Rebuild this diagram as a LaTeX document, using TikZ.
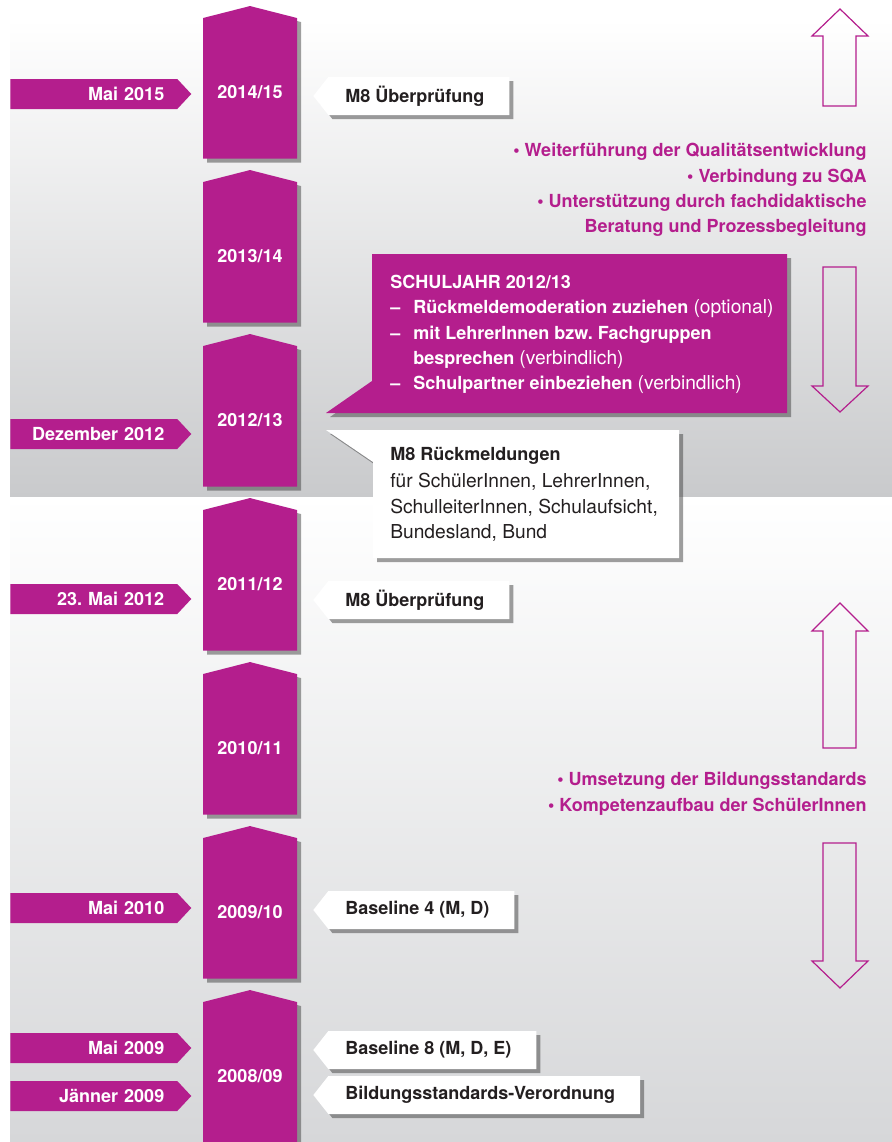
\documentclass[tikz,border=0pt]{standalone}
\usepackage{fontspec}
\setmainfont{TeX Gyre Heros}
\usetikzlibrary{shapes.symbols,shadows,positioning}
\definecolor{plum}{RGB}{180,30,141}
\definecolor{ink}{RGB}{35,31,32}
\definecolor{panelgray}{RGB}{201,202,204}
\definecolor{panellow}{RGB}{214,215,217}
\newcommand\boldsize{\fontsize{13.5pt}{19pt}\selectfont\bfseries}
\newcommand\lightpart[1]{{\fontsize{14.4pt}{19pt}\selectfont\mdseries #1}}
\newcommand\dashitem{\makebox[17.25pt][l]{–}}
\frenchspacing
\tikzset{
  shade box/.style={drop shadow={shadow xshift=3pt, shadow yshift=-3pt, fill=black!75, opacity=.5}},
  yearblock/.style={shape=signal, signal to=north, signal from=nowhere, signal pointer angle=151.4,
    fill=plum, shade box, text=white, font=\boldsize, minimum width=70.5pt, minimum height=111.75pt,
    text height=15.5pt, text depth=0pt, inner sep=0pt, anchor=south},
  datetag/.style={shape=signal, signal to=east, signal from=nowhere, signal pointer angle=93.9,
    fill=plum, text=white, font=\boldsize, inner sep=0pt, minimum height=22.5pt, text width=125.25pt,
    align=right, anchor=west, execute at end node={\hspace*{9.75pt}}},
  eventtag/.style={shape=signal, signal to=west, signal from=nowhere, signal pointer angle=103.4,
    fill=white, shade box, text=ink, font=\boldsize, inner sep=0pt, minimum height=28.5pt, anchor=west,
    execute at begin node={\hspace*{12.75pt}}, execute at end node={\hspace*{18.75pt}}},
  outline arrow/.style={draw=plum, line width=0.9pt},
  goal/.style={text=plum, font=\boldsize, align=right, anchor=north east, inner sep=0pt}
}

\begin{document}
\begin{tikzpicture}[x=0.75pt, y=-0.75pt]
  \useasboundingbox (0,0) rectangle (892,1142);
  \clip (0,0) rectangle (892,1142);
  % background panels
  \shade[top color=white, bottom color=panelgray] (10,19) rectangle (892,497);
  \shade[top color=white, bottom color=panellow] (10,497) rectangle (892,1142);
  % school years
  \foreach \ya/\yb [count=\k from 0] in {2014/15,2013/14,2012/13,2011/12,2010/11,2009/10,2008/09}
    \node[yearblock] (yr\k) at (250,{159+164*\k}) {\ya/\yb};
  % dates
  \node[datetag] (mai15) at (10,94) {Mai 2015};
  \node[datetag] (dez12) at (10,434) {Dezember 2012};
  \node[datetag] (mai12) at (10,599) {23. Mai 2012};
  \node[datetag] (mai10) at (10,908) {Mai 2010};
  \node[datetag] (mai09) at (10,1048) {Mai 2009};
  \node[datetag] (jan09) at (10,1096) {Jänner 2009};
  % events
  \node[eventtag] (check15) at (313,96) {M8 Überprüfung};
  \node[eventtag] (check12) at (313,600) {M8 Überprüfung};
  \node[eventtag] (base4) at (313,910) {Baseline 4 (M, D)};
  \node[eventtag] (base8) at (313,1050) {Baseline 8 (M, D, E)};
  \node[eventtag] (decree) at (313,1095) {Bildungsstandards-Verordnung};
  % callouts of 2012/13
  \path[fill=plum, shade box] (372,254) -- (787,254) -- (787,413) -- (326,413) -- (372,381) -- cycle;
  \node[anchor=north west, inner sep=0pt, text=white, font=\boldsize, align=left] (plan) at (390,275)
    {SCHULJAHR 2012/13\\
     \dashitem Rückmeldemoderation zuziehen \lightpart{(optional)}\\
     \dashitem mit LehrerInnen bzw. Fachgruppen\\
     \hspace*{17.25pt}besprechen \lightpart{(verbindlich)}\\
     \dashitem Schulpartner einbeziehen \lightpart{(verbindlich)}};
  \path[fill=white, shade box] (326,430) -- (679,430) -- (679,558) -- (373,558) -- (373,462) -- cycle;
  \node[anchor=north west, inner sep=0pt, text=ink, font=\boldsize, align=left] (report) at (390,447)
    {M8 Rückmeldungen\\[1.5pt]
     \lightpart{für SchülerInnen, LehrerInnen,}\\
     \lightpart{SchulleiterInnen, Schulaufsicht,}\\
     \lightpart{Bundesland, Bund}};
  % goals
  \node[goal] (goals) at (867,143)
    {• Weiterführung der Qualitätsentwicklung\\
     • Verbindung zu SQA\\
     • Unterstützung durch fachdidaktische\\
     Beratung und Prozessbegleitung};
  \node[goal] (aims) at (867,772)
    {• Umsetzung der Bildungsstandards\\
     • Kompetenzaufbau der SchülerInnen};
  % up and down arrows
  \foreach \tip/\head/\tail in {9/36/106, 412/386/267, 603/631/748, 988/961/843}
    \draw[outline arrow] (823,\tail) -- (823,\head) -- (812,\head) -- (840,\tip)
      -- (868,\head) -- (856,\head) -- (856,\tail) -- cycle;
\end{tikzpicture}
\end{document}
